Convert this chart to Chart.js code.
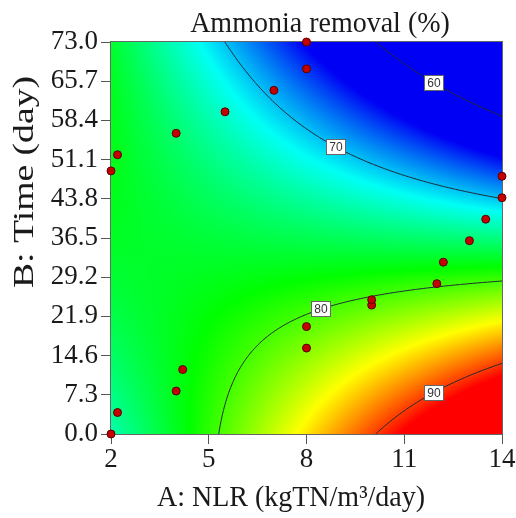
<!DOCTYPE html>
<html>
<head>
<meta charset="utf-8">
<script src="https://cdn.jsdelivr.net/npm/chart.js@4.4.1/dist/chart.umd.min.js"></script>
<style>
  body { margin: 0; background: #fff; }
  canvas { display: block; }
</style>
</head>
<body>
<canvas id="chart" width="516" height="518"></canvas>
<script>
// axis ticks
const xTicks = [2, 5, 8, 11, 14];
const yTicks = [0, 7.3, 14.6, 21.9, 29.2, 36.5, 43.8, 51.1, 58.4, 65.7, 73];

// design points (NLR, time)
const nlr  = [2, 2.2, 4, 4.2, 8, 8, 10, 10, 12, 12.2, 13, 13.5, 14, 14, 8, 8, 7, 5.5, 4, 2.2, 2];
const time = [0, 4, 8, 12, 16, 20, 24, 25, 28, 32, 36, 40, 44, 48, 73, 68, 64, 60, 56, 52, 49];

// response surface, coded a=(A-8)/6, b=(B-36.5)/36.5
// terms: 1, a, b, ab, a^2, b^2, a^2 b, a b^2
const coef = [76.1, -1.25, -10.4, -12.75, -0.07, -1.0, -0.64, 1.0];

// contour levels and where their labels sit along NLR
const levels = [60, 70, 80, 90];
const labelNlr = [11.9, 8.9, 8.45, 11.9];

// value range of the colour ramp (blue -> red)
const colourRange = [65, 91.5];

function removal(A, B) {
  const a = (A - 8) / 6, b = (B - 36.5) / 36.5;
  return coef[0] + coef[1]*a + coef[2]*b + coef[3]*a*b + coef[4]*a*a +
         coef[5]*b*b + coef[6]*a*a*b + coef[7]*a*b*b;
}

function colour(v) {
  let t = (v - colourRange[0]) / (colourRange[1] - colourRange[0]);
  t = Math.max(0, Math.min(1, t)) * 4;
  const k = Math.min(3, Math.floor(t)), f = t - k;
  if (k == 0) return [0, 255*f, 245];
  if (k == 1) return [0, 255, 245*(1-f)];
  if (k == 2) return [255*f, 255, 0];
  return [255, 255*(1-f), 0];
}

const surface = {
  id: 'surface',
  beforeDatasetsDraw(chart) {
    const { ctx, chartArea: ca, scales: { x, y } } = chart;
    const L = Math.round(ca.left), T = Math.round(ca.top);
    const w = Math.round(ca.right) - L, h = Math.round(ca.bottom) - T;
    const img = ctx.createImageData(w, h);
    for (let j = 0; j < h; j++) {
      const B = y.getValueForPixel(T + j + 0.5);
      for (let i = 0; i < w; i++) {
        const A = x.getValueForPixel(L + i + 0.5);
        const c = colour(removal(A, B));
        const p = (j * w + i) * 4;
        img.data[p] = c[0]; img.data[p+1] = c[1]; img.data[p+2] = c[2]; img.data[p+3] = 255;
      }
    }
    ctx.putImageData(img, L, T);

    // contour lines, marching squares
    const N = 160;
    const xmin = x.min, xmax = x.max, ymin = y.min, ymax = y.max;
    const gx = i => xmin + (xmax - xmin) * i / N;
    const gy = j => ymin + (ymax - ymin) * j / N;
    const grid = [];
    for (let j = 0; j <= N; j++) {
      grid.push([]);
      for (let i = 0; i <= N; i++) grid[j].push(removal(gx(i), gy(j)));
    }
    ctx.save();
    ctx.beginPath();
    ctx.rect(ca.left, ca.top, ca.right - ca.left, ca.bottom - ca.top);
    ctx.clip();
    ctx.strokeStyle = '#1e2a36';
    ctx.lineWidth = 1;
    levels.forEach(lv => {
      ctx.beginPath();
      for (let j = 0; j < N; j++) {
        for (let i = 0; i < N; i++) {
          const c = [[gx(i), gy(j), grid[j][i]], [gx(i+1), gy(j), grid[j][i+1]],
                     [gx(i+1), gy(j+1), grid[j+1][i+1]], [gx(i), gy(j+1), grid[j+1][i]]];
          const pts = [];
          for (let e = 0; e < 4; e++) {
            const p = c[e], q = c[(e+1) % 4];
            if ((p[2] - lv) * (q[2] - lv) < 0) {
              const f = (lv - p[2]) / (q[2] - p[2]);
              pts.push([p[0] + f*(q[0]-p[0]), p[1] + f*(q[1]-p[1])]);
            }
          }
          for (let k = 0; k + 1 < pts.length; k += 2) {
            ctx.moveTo(x.getPixelForValue(pts[k][0]), y.getPixelForValue(pts[k][1]));
            ctx.lineTo(x.getPixelForValue(pts[k+1][0]), y.getPixelForValue(pts[k+1][1]));
          }
        }
      }
      ctx.stroke();
    });
    ctx.restore();

    // contour labels
    ctx.save();
    ctx.font = '12px "Liberation Sans"';
    ctx.textAlign = 'center';
    ctx.textBaseline = 'middle';
    levels.forEach((lv, n) => {
      const A = labelNlr[n];
      let lo = ymin, hi = ymax;
      for (let it = 0; it < 40; it++) {
        const mid = (lo + hi) / 2;
        if (removal(A, mid) > lv) lo = mid; else hi = mid;
      }
      const px = x.getPixelForValue(A), py = y.getPixelForValue((lo + hi) / 2);
      ctx.fillStyle = '#fff';
      ctx.fillRect(Math.round(px) - 9.5, Math.round(py) - 7.5, 19, 15);
      ctx.strokeStyle = '#666';
      ctx.strokeRect(Math.round(px) - 9.5, Math.round(py) - 7.5, 19, 15);
      ctx.fillStyle = '#333';
      ctx.fillText(String(lv), Math.round(px), Math.round(py) + 0.5);
    });
    ctx.restore();

    // plot frame
    ctx.save();
    ctx.strokeStyle = '#666';
    ctx.lineWidth = 1;
    ctx.strokeRect(L - 0.5, T - 0.5, w + 1, h + 1);
    ctx.restore();
  },
  afterDraw(chart) {
    const ctx = chart.ctx;
    ctx.save();
    ctx.fillStyle = '#1a1a1a';
    ctx.textAlign = 'center';
    ctx.textBaseline = 'alphabetic';
    ctx.font = '28px "Liberation Serif"';

    ctx.save();
    ctx.translate(320, 32);
    ctx.scale(1, 1.08);
    ctx.fillText('Ammonia removal (%)', 0, 0);
    ctx.restore();

    ctx.save();
    ctx.translate(291, 506);
    ctx.scale(1, 1.08);
    ctx.fillText('A: NLR (kgTN/m³/day)', 0, 0);
    ctx.restore();

    ctx.save();
    ctx.font = '28px "Liberation Serif"';
    const label = 'B: Time (day)';
    const tw = ctx.measureText(label).width;
    ctx.translate(33, 182);
    ctx.rotate(-Math.PI / 2);
    ctx.scale(212 / tw, 1.05);
    ctx.fillText(label, 0, 0);
    ctx.restore();

    ctx.restore();
  }
};

const tickFont = { family: 'Liberation Serif', size: 27 };

new Chart(document.getElementById('chart'), {
  type: 'scatter',
  data: {
    datasets: [{
      label: 'Design points',
      data: nlr.map((v, i) => ({ x: v, y: time[i] })),
      backgroundColor: '#c40000',
      borderColor: '#5a0000',
      borderWidth: 1,
      pointRadius: 4,
      clip: false
    }]
  },
  options: {
    responsive: false,
    devicePixelRatio: 1,
    animation: false,
    layout: { padding: { left: 0, right: 14, top: 42, bottom: 0 } },
    plugins: {
      legend: { display: false },
      title: { display: false },
      tooltip: { enabled: false }
    },
    scales: {
      x: {
        type: 'linear',
        min: 2, max: 14,
        afterBuildTicks: s => { s.ticks = xTicks.map(v => ({ value: v })); },
        afterFit: s => { s.height = 84; },
        ticks: { font: tickFont, color: '#1a1a1a', padding: 0, maxRotation: 0,
                 callback: v => String(v) },
        grid: { drawOnChartArea: false, tickLength: 10, color: '#555' },
        border: { display: false }
      },
      y: {
        type: 'linear',
        min: 0, max: 73,
        afterBuildTicks: s => { s.ticks = yTicks.map(v => ({ value: v })); },
        afterFit: s => { s.width = 111; },
        ticks: { font: tickFont, color: '#1a1a1a', padding: 3,
                 callback: v => Number(v).toFixed(1) },
        grid: { drawOnChartArea: false, tickLength: 10, color: '#555' },
        border: { display: false }
      }
    }
  },
  plugins: [surface]
});
</script>
</body>
</html>
